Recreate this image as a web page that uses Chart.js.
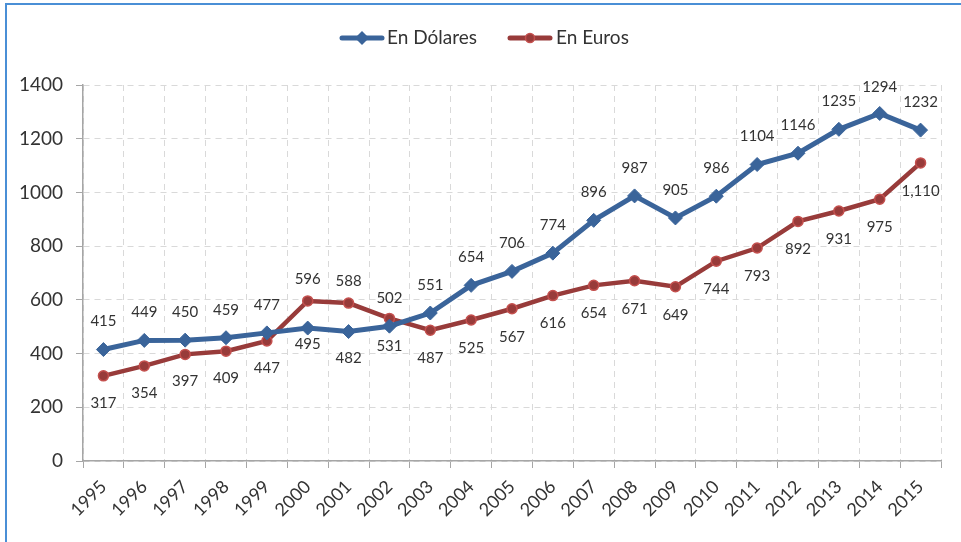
<!DOCTYPE html>
<html>
<head>
<meta charset="utf-8">
<script src="https://cdn.jsdelivr.net/npm/chart.js@4/dist/chart.umd.min.js"></script>
<style>
  html, body { margin: 0; padding: 0; background: #fff; overflow: hidden; }
  #wrap { position: relative; width: 961px; height: 542px; }
  #frame { position: absolute; left: 5px; top: 3px; width: 1000px; height: 600px;
           border-left: 2px solid #4A8FD6; border-top: 2px solid #4A8FD6; box-sizing: border-box; }
  canvas { position: absolute; left: 0; top: 0; }
</style>
</head>
<body>
<div id="wrap">
  <div id="frame"></div>
  <canvas id="c" width="961" height="542"></canvas>
</div>
<script>
const years = ['1995','1996','1997','1998','1999','2000','2001','2002','2003','2004','2005',
               '2006','2007','2008','2009','2010','2011','2012','2013','2014','2015'];
const dolares = [415,449,450,459,477,495,482,502,551,654,706,774,896,987,905,986,1104,1146,1235,1294,1232];
const euros   = [317,354,397,409,447,596,588,531,487,525,567,616,654,671,649,744,793,892,931,975,1110];
const seriesNames = ['En Dólares', 'En Euros'];
const yTicks = [0,200,400,600,800,1000,1200,1400];

// label placement (vertical offset from point to label centre, px)
const dolaresLabelDy = [-28,-28,-28,-28,-28,16,27,-28,-28,-28,-28,-28,-28,-28,-28,-28,-28,-28,-28,-26,-28];
const eurosLabelDy   = [27,27,27,27,27,-22,-22,28,28,28,28,28,28,28,28,28,28,28,28,28,28];

const BLUE = '#3A649A';
const RED = '#983B3A';
const RED_BORDER = '#C4504E';
const TXT = '#333333';
const FONT = 'Lato, "Open Sans", sans-serif';

const labelsPlugin = {
  id: 'valueLabels',
  afterDatasetsDraw(chart) {
    const ctx = chart.ctx;
    ctx.save();
    ctx.font = '15px ' + FONT;
    ctx.fillStyle = TXT;
    ctx.textAlign = 'center';
    ctx.textBaseline = 'middle';
    const dys = [dolaresLabelDy, eurosLabelDy];
    chart.data.datasets.forEach((ds, di) => {
      const meta = chart.getDatasetMeta(di);
      meta.data.forEach((pt, i) => {
        const v = ds.data[i];
        const txt = (di === 1 && v >= 1000) ? v.toLocaleString('en-US') : String(v);
        ctx.fillText(txt, pt.x, pt.y + dys[di][i]);
      });
    });
    ctx.restore();
  }
};

const legendPlugin = {
  id: 'customLegend',
  afterDraw(chart) {
    const ctx = chart.ctx;
    ctx.save();
    const y = 38;
    ctx.strokeStyle = BLUE; ctx.lineWidth = 5; ctx.lineCap = 'round';
    ctx.beginPath(); ctx.moveTo(342, y); ctx.lineTo(382, y); ctx.stroke();
    ctx.fillStyle = BLUE;
    ctx.beginPath(); ctx.moveTo(362, y-7); ctx.lineTo(369, y); ctx.lineTo(362, y+7); ctx.lineTo(355, y); ctx.closePath(); ctx.fill();
    ctx.strokeStyle = RED;
    ctx.beginPath(); ctx.moveTo(510, y); ctx.lineTo(550, y); ctx.stroke();
    ctx.fillStyle = RED; ctx.strokeStyle = RED_BORDER; ctx.lineWidth = 1.5;
    ctx.beginPath(); ctx.arc(530, y, 4.5, 0, Math.PI*2); ctx.fill(); ctx.stroke();
    ctx.fillStyle = TXT;
    ctx.font = '19px ' + FONT;
    ctx.textAlign = 'left'; ctx.textBaseline = 'middle';
    ctx.fillText(seriesNames[0], 387, y);
    ctx.fillText(seriesNames[1], 556, y);
    ctx.restore();
  }
};

new Chart(document.getElementById('c'), {
  type: 'line',
  data: {
    labels: years,
    datasets: [
      { label: seriesNames[0], data: dolares, borderColor: BLUE, backgroundColor: BLUE,
        borderWidth: 5, pointStyle: 'rectRot', pointRadius: 7, pointBackgroundColor: BLUE,
        pointBorderColor: BLUE, pointBorderWidth: 1, tension: 0 },
      { label: seriesNames[1], data: euros, borderColor: RED, backgroundColor: RED,
        borderWidth: 4.5, pointStyle: 'circle', pointRadius: 5, pointBackgroundColor: RED,
        pointBorderColor: RED_BORDER, pointBorderWidth: 1.5, tension: 0 }
    ]
  },
  options: {
    responsive: false,
    animation: false,
    devicePixelRatio: 1,
    layout: { padding: { top: 85, right: 20, left: 0, bottom: 0 } },
    plugins: { legend: { display: false }, tooltip: { enabled: false } },
    scales: {
      x: {
        offset: true,
        grid: { offset: true, color: '#D9D9D9', lineWidth: 1,
                tickLength: 7, tickColor: '#A6A6A6', drawTicks: true, tickBorderDash: [] },
        border: { display: true, color: '#A6A6A6', width: 1.5, dash: [6, 5] },
        ticks: { color: TXT, font: { family: FONT, size: 18 }, minRotation: 45, maxRotation: 45,
                 padding: 8, autoSkip: false },
        afterFit(scale) { scale.height = 81; }
      },
      y: {
        min: 0, max: 1400,
        afterBuildTicks(scale) { scale.ticks = yTicks.map(v => ({ value: v })); },
        grid: { color: '#D9D9D9', lineWidth: 1, tickLength: 7, tickColor: '#A6A6A6', tickBorderDash: [] },
        border: { display: true, color: '#A6A6A6', width: 1.5, dash: [6, 5] },
        ticks: { color: TXT, font: { family: FONT, size: 19 }, padding: 13,
                 callback: (v) => String(v) },
        afterFit(scale) { scale.width = 83; }
      }
    }
  },
  plugins: [labelsPlugin, legendPlugin]
});
</script>
</body>
</html>
